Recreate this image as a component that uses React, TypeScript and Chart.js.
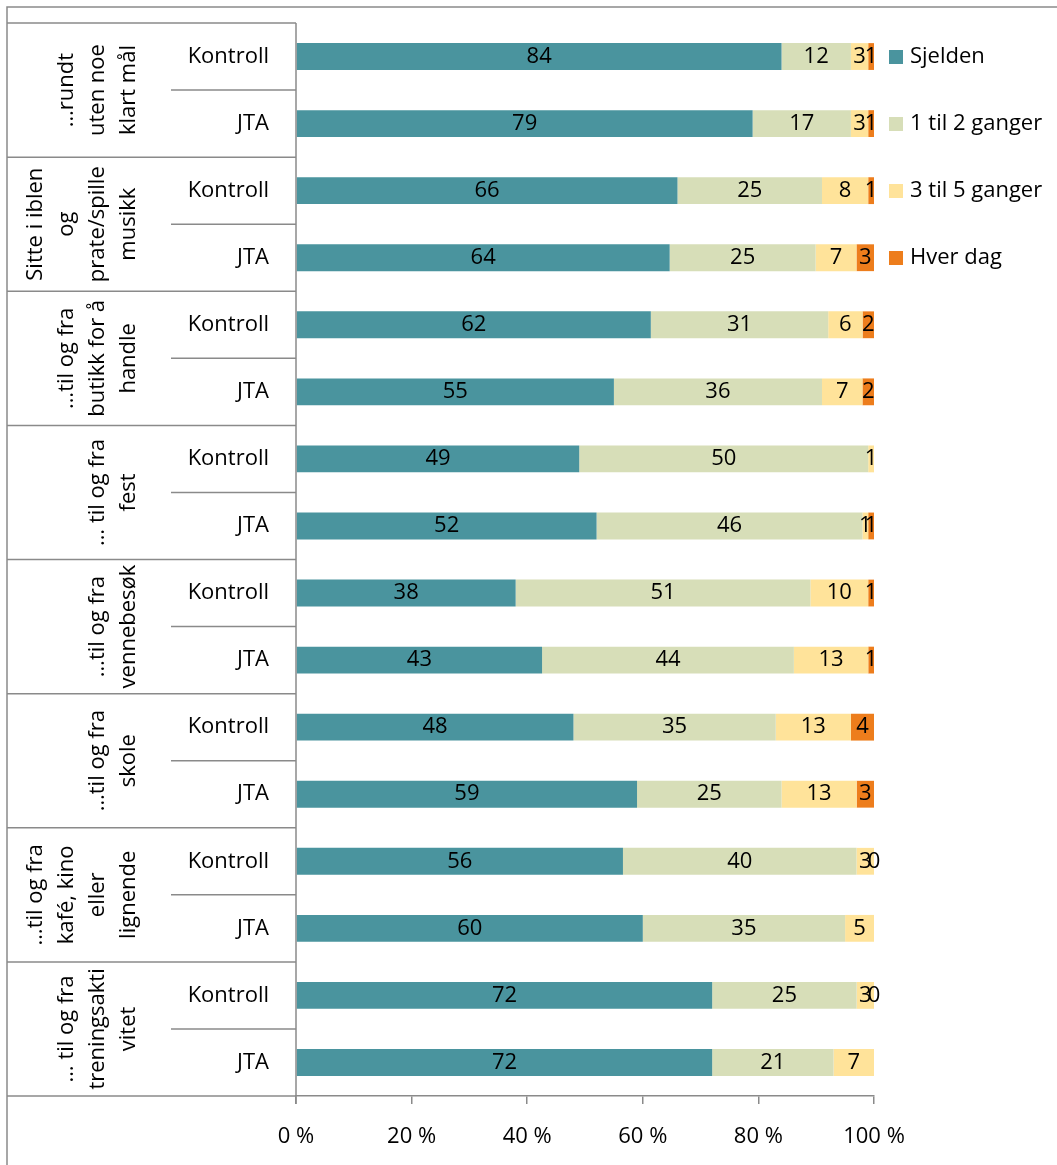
import { useEffect, useRef } from 'react';
import { Chart, registerables } from 'chart.js';

Chart.register(...registerables);

const FONT = '"Open Sans", "Noto Sans", sans-serif';
const FONT_SIZE = 22;
const LINE_COLOR = '#8a8a8a';

// Activity groups (wrapped lines, drawn rotated) and the two respondent groups
const groupLabels: string[][] = [
  ['…rundt', 'uten noe', 'klart mål'],
  ['Sitte i iblen', 'og', 'prate/spille', 'musikk'],
  ['…til og fra', 'butikk for å', 'handle'],
  ['… til og fra', 'fest'],
  ['…til og fra', 'vennebesøk'],
  ['…til og fra', 'skole'],
  ['…til og fra', 'kafé, kino', 'eller', 'lignende'],
  ['… til og fra', 'treningsakti', 'vitet'],
];
const subgroups = ['Kontroll', 'JTA'];

const seriesNames = ['Sjelden', '1 til 2 ganger', '3 til 5 ganger', 'Hver dag'];
const seriesColors = ['#4A949E', '#D7DEB8', '#FFE39A', '#ED7D1C'];

// Percentages per row (Kontroll, JTA for each activity, top to bottom)
const sjelden = [84, 79, 66, 64, 62, 55, 49, 52, 38, 43, 48, 59, 56, 60, 72, 72];
const enTilTo = [12, 17, 25, 25, 31, 36, 50, 46, 51, 44, 35, 25, 40, 35, 25, 21];
const treTilFem = [3, 3, 8, 7, 6, 7, 1, 1, 10, 13, 13, 13, 3, 5, 3, 7];
const hverDag: (number | null)[] = [1, 1, 1, 3, 2, 2, null, 1, 1, 1, 4, 3, 0, null, 0, null];

const xTicks = [0, 20, 40, 60, 80, 100];

const series: (number | null)[][] = [sjelden, enTilTo, treTilFem, hverDag];
const rowLabels = groupLabels.flatMap(() => subgroups);

// 100 % stacked: each row is scaled to its own total
const rowTotals = rowLabels.map((_, i) =>
  series.reduce((s, arr) => s + (arr[i] ?? 0), 0)
);
const normalized = series.map((arr) =>
  arr.map((v, i) => (v == null ? null : (v / rowTotals[i]) * 100))
);

const tablePlugin = {
  id: 'tableAndLabels',
  afterDraw(chart: any) {
    const { ctx, chartArea, scales } = chart;
    const yS = scales.y;
    const left = 7;
    const subLeft = 171;
    const axisX = chartArea.left;
    const top = chartArea.top;
    const bottom = chartArea.bottom;
    const n = rowLabels.length;

    ctx.save();
    ctx.strokeStyle = LINE_COLOR;
    ctx.lineWidth = 1.5;

    // outer frame (top and left edges)
    ctx.beginPath();
    ctx.moveTo(left, chart.height);
    ctx.lineTo(left, left);
    ctx.lineTo(chart.width, left);
    ctx.stroke();

    // category axis line with its tick below the value axis
    ctx.beginPath();
    ctx.moveTo(axisX, top);
    ctx.lineTo(axisX, bottom + 8);
    ctx.stroke();

    // group separators across the full label table
    const boundaries: number[] = [top];
    for (let g = 1; g < groupLabels.length; g++) {
      boundaries.push((yS.getPixelForValue(2 * g - 1) + yS.getPixelForValue(2 * g)) / 2);
    }
    boundaries.push(bottom);
    ctx.beginPath();
    boundaries.forEach((b) => {
      ctx.moveTo(left, b);
      ctx.lineTo(axisX, b);
    });
    // separators between Kontroll and JTA
    for (let g = 0; g < groupLabels.length; g++) {
      const mid = (yS.getPixelForValue(2 * g) + yS.getPixelForValue(2 * g + 1)) / 2;
      ctx.moveTo(subLeft, mid);
      ctx.lineTo(axisX, mid);
    }
    ctx.stroke();

    ctx.fillStyle = '#000';
    ctx.font = `${FONT_SIZE}px ${FONT}`;

    // rotated activity labels, last line aligned to the right column
    ctx.textAlign = 'center';
    ctx.textBaseline = 'middle';
    groupLabels.forEach((lines, g) => {
      const cy = (boundaries[g] + boundaries[g + 1]) / 2;
      lines.forEach((line, i) => {
        const x = 129 - (lines.length - 1 - i) * 31;
        ctx.save();
        ctx.translate(x, cy);
        ctx.rotate(-Math.PI / 2);
        ctx.fillText(line, 0, 0);
        ctx.restore();
      });
    });

    // respondent group labels
    ctx.textAlign = 'right';
    for (let i = 0; i < n; i++) {
      ctx.fillText(rowLabels[i], 269, yS.getPixelForValue(i));
    }

    // value labels centred in each segment
    ctx.textAlign = 'center';
    series.forEach((arr, d) => {
      const meta = chart.getDatasetMeta(d);
      meta.data.forEach((bar: any, i: number) => {
        const v = arr[i];
        if (v == null) return;
        const p = bar.getProps(['x', 'base', 'y'], true);
        ctx.fillText(String(v), (p.x + p.base) / 2, p.y);
      });
    });

    // legend
    ctx.textAlign = 'left';
    seriesNames.forEach((name, d) => {
      const cy = 57 + d * 67;
      ctx.fillStyle = seriesColors[d];
      ctx.fillRect(889, cy - 7, 14, 14);
      ctx.fillStyle = '#000';
      ctx.fillText(name, 910, cy);
    });

    ctx.restore();
  },
};

export default function App() {
  const canvasRef = useRef<HTMLCanvasElement | null>(null);

  useEffect(() => {
    const canvas = canvasRef.current;
    if (!canvas) return;
    const chart = new Chart(canvas, {
      type: 'bar',
      data: {
        labels: rowLabels,
        datasets: normalized.map((data, d) => ({
          label: seriesNames[d],
          data,
          backgroundColor: seriesColors[d],
          borderWidth: 0,
          barPercentage: 0.4,
          categoryPercentage: 1,
        })),
      },
      options: {
        indexAxis: 'y',
        responsive: false,
        animation: false,
        layout: { padding: { left: 296, right: 183, top: 23, bottom: 0 } },
        plugins: {
          legend: { display: false },
          tooltip: { enabled: false },
        },
        scales: {
          x: {
            type: 'linear',
            stacked: true,
            min: 0,
            max: 100,
            afterBuildTicks: (axis: any) => {
              axis.ticks = xTicks.map((value) => ({ value }));
            },
            afterFit: (axis: any) => {
              axis.height = 69;
            },
            ticks: {
              callback: (v: any) => `${v} %`,
              color: '#000',
              padding: 20,
              font: { family: FONT, size: FONT_SIZE },
            },
            grid: {
              drawOnChartArea: false,
              drawTicks: true,
              tickLength: 8,
              color: LINE_COLOR,
              lineWidth: 1.5,
            },
            border: { display: true, color: LINE_COLOR, width: 1.5 },
          },
          y: {
            type: 'category',
            stacked: true,
            display: false,
          },
        },
      },
      plugins: [tablePlugin],
    });
    return () => chart.destroy();
  }, []);

  return (
    <div style={{ position: 'absolute', left: 0, top: 0, width: 1057, height: 1165, background: '#fff' }}>
      <canvas ref={canvasRef} width={1057} height={1165} style={{ display: 'block' }} />
    </div>
  );
}
